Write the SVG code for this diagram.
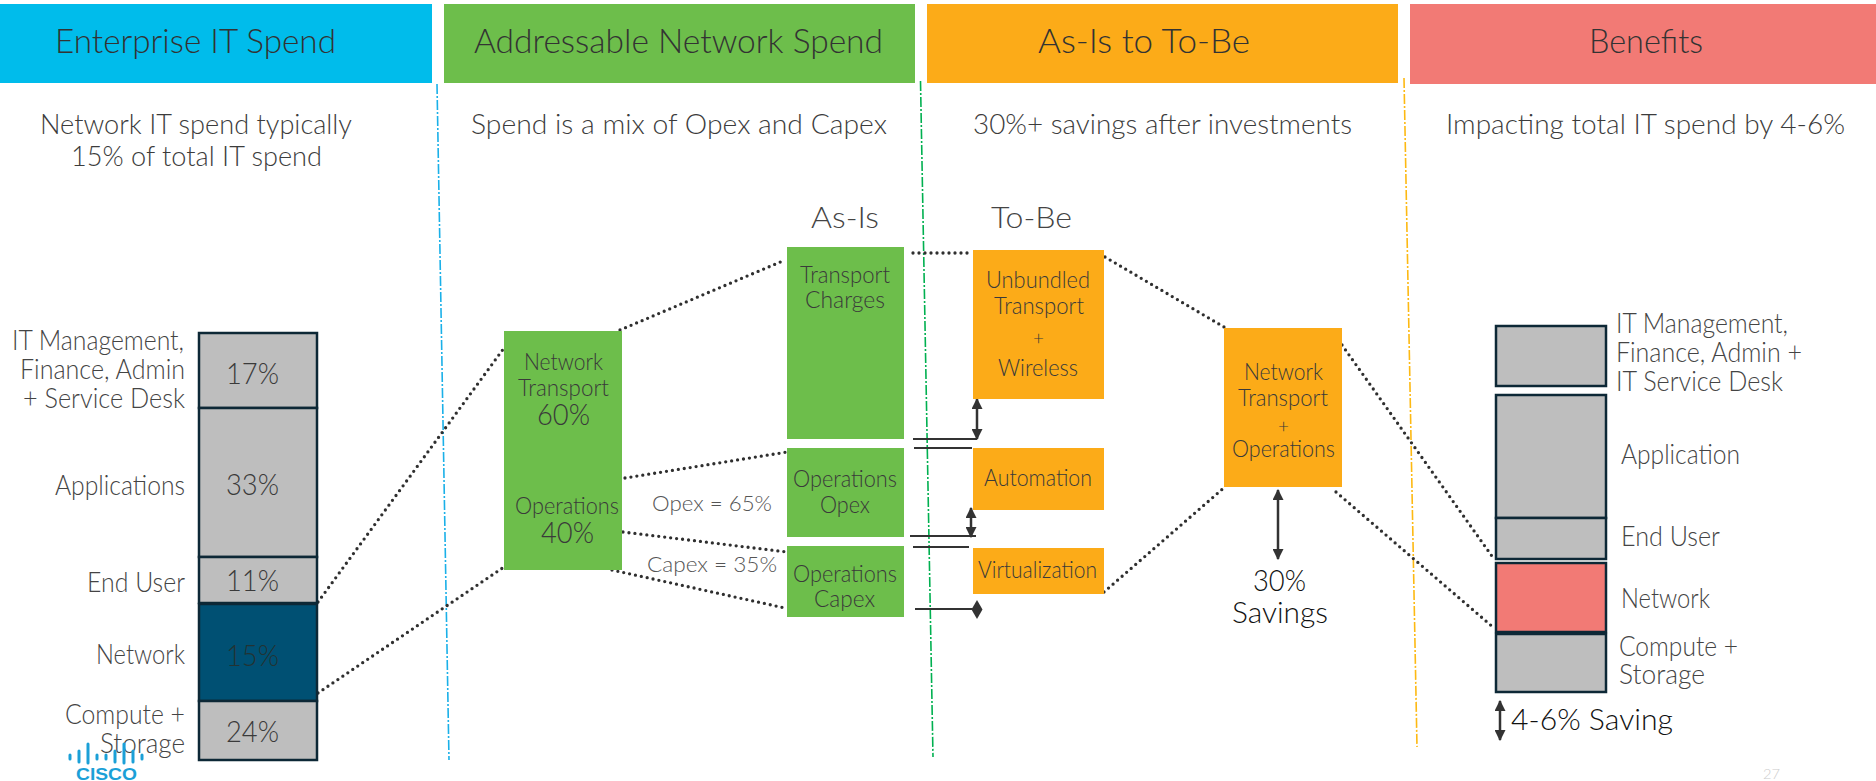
<svg xmlns="http://www.w3.org/2000/svg" width="1876" height="781" viewBox="0 0 1876 781">
<defs>
<style>
text{font-family:"Lato","Liberation Sans",sans-serif;font-weight:300;fill:#3a3a3a}
.h{font-size:33px;fill:#333}
.s{font-size:28px;fill:#3c3c3c}
.l{font-size:27px;fill:#444}
.p{font-size:29px;fill:#3a3a3a}
.b{font-size:24px;fill:#3a3a3a}
.c{font-size:22px;fill:#555}
.t{font-size:30px;fill:#111}
.bar{stroke:#0d2836;stroke-width:2.5;fill:#bebebe}
.dot{stroke:#2f2f2f;stroke-width:3.3;stroke-linecap:round;stroke-dasharray:0 6;fill:none}
.sep{stroke-width:1.6;stroke-dasharray:10 2 2 2;fill:none}
.sol{stroke:#333;stroke-width:2;fill:none}
.arr{stroke:#333;stroke-width:2.5;fill:none;marker-start:url(#a);marker-end:url(#a)}
.g{fill:#6dbe4b}.o{fill:#fcab18}
.logo{stroke:#1ba0d7;stroke-width:3;stroke-linecap:round}
</style>
<marker id="a" viewBox="0 0 10 10" refX="9" refY="5" markerWidth="4.4" markerHeight="4.4" orient="auto-start-reverse"><path d="M0 0L10 5L0 10z" fill="#333"/></marker>
</defs>
<g id="hdr-enterprise"><rect x="0" y="4" width="432" height="79" fill="#00bceb"/><text class="h" x="55" y="53" textLength="281" lengthAdjust="spacingAndGlyphs">Enterprise IT Spend</text><text class="s" x="40" y="134" textLength="312" lengthAdjust="spacingAndGlyphs">Network IT spend typically</text><text class="s" x="71" y="166" textLength="251" lengthAdjust="spacingAndGlyphs">15% of total IT spend</text></g>
<g id="hdr-addressable"><rect x="444" y="4" width="471" height="79" class="g"/><text class="h" x="474" y="53" textLength="409" lengthAdjust="spacingAndGlyphs">Addressable Network Spend</text><text class="s" x="471" y="134" textLength="416" lengthAdjust="spacingAndGlyphs">Spend is a mix of Opex and Capex</text></g>
<g id="hdr-asis"><rect x="927" y="4" width="471" height="79" class="o"/><text class="h" x="1038" y="53" textLength="212" lengthAdjust="spacingAndGlyphs">As-Is to To-Be</text><text class="s" x="973" y="134" textLength="379" lengthAdjust="spacingAndGlyphs">30%+ savings after investments</text></g>
<g id="hdr-benefits"><rect x="1410" y="4" width="466" height="80" fill="#f27a75"/><text class="h" x="1589" y="53" textLength="114" lengthAdjust="spacingAndGlyphs">Benefits</text><text class="s" x="1446" y="134" textLength="399" lengthAdjust="spacingAndGlyphs">Impacting total IT spend by 4-6%</text></g>

<g id="connectors">
<path class="sep" stroke="#1ab0e8" d="M437 84L449 760"/>
<path class="sep" stroke="#00b050" d="M920.500 81L933 757"/>
<path class="sep" stroke="#fdb913" d="M1404 78L1417 747"/>
<path class="dot" d="M318 602L504 348M318 693L504 567M620 330L785 260M625 478L787 452M623 532L787 552M612 570L785 608M913 253L972 253M1105 257L1224 327M1104 592L1226 486M1342 345L1494 559M1336 492L1494 628"/>
<path class="sol" d="M913 439H977M914 448H972M910 536H976M913 547H969M915 609H973"/>
<path d="M977 600L982.500 609.500L977 619L971.500 609.500z" fill="#333"/>
<path class="arr" d="M977 399V439"/>
<path class="arr" d="M971 508V537"/>
<path class="arr" d="M1278 490V559"/>
<path class="arr" d="M1500 701V740"/>
</g>

<g id="left-stack">
<rect class="bar" x="199" y="333" width="118" height="75"/>
<rect class="bar" x="199" y="408" width="118" height="149"/>
<rect class="bar" x="199" y="557" width="118" height="46"/>
<rect class="bar" x="199" y="604" width="118" height="97" style="fill:#005073"/>
<rect class="bar" x="199" y="701" width="118" height="59"/>
<text class="p" x="226" y="384" textLength="53" lengthAdjust="spacingAndGlyphs">17%</text>
<text class="p" x="226" y="495" textLength="53" lengthAdjust="spacingAndGlyphs">33%</text>
<text class="p" x="226" y="591" textLength="53" lengthAdjust="spacingAndGlyphs">11%</text>
<text class="p" x="226" y="666" textLength="53" lengthAdjust="spacingAndGlyphs" style="fill:#233">15%</text>
<text class="p" x="226" y="742" textLength="53" lengthAdjust="spacingAndGlyphs">24%</text>
<text class="l" x="12" y="350" textLength="172" lengthAdjust="spacingAndGlyphs">IT Management,</text>
<text class="l" x="20" y="379" textLength="165" lengthAdjust="spacingAndGlyphs">Finance, Admin</text>
<text class="l" x="23" y="408" textLength="162" lengthAdjust="spacingAndGlyphs">+ Service Desk</text>
<text class="l" x="55" y="495" textLength="130" lengthAdjust="spacingAndGlyphs">Applications</text>
<text class="l" x="87" y="592" textLength="98" lengthAdjust="spacingAndGlyphs">End User</text>
<text class="l" x="96" y="664" textLength="89" lengthAdjust="spacingAndGlyphs">Network</text>
<text class="l" x="65" y="724" textLength="120" lengthAdjust="spacingAndGlyphs">Compute +</text>
<text class="l" x="100" y="753" textLength="85" lengthAdjust="spacingAndGlyphs">Storage</text>
</g>

<g id="addressable-box"><rect x="504" y="331" width="118" height="239" class="g"/>
<text class="b" x="524" y="370" textLength="79" lengthAdjust="spacingAndGlyphs">Network</text>
<text class="b" x="518" y="396" textLength="91" lengthAdjust="spacingAndGlyphs">Transport</text>
<text class="p" x="537" y="425" textLength="53" lengthAdjust="spacingAndGlyphs">60%</text>
<text class="b" x="515" y="514" textLength="104" lengthAdjust="spacingAndGlyphs">Operations</text>
<text class="p" x="541" y="543" textLength="53" lengthAdjust="spacingAndGlyphs">40%</text>
</g>
<g id="split-labels">
<text class="c" x="652" y="511" textLength="120" lengthAdjust="spacingAndGlyphs">Opex = 65%</text>
<text class="c" x="647" y="572" textLength="130" lengthAdjust="spacingAndGlyphs">Capex = 35%</text>
</g>
<g id="as-is-title"><text class="l" x="811" y="228" textLength="68" lengthAdjust="spacingAndGlyphs" style="font-size:30px">As-Is</text></g>
<g id="to-be-title"><text class="l" x="991" y="228" textLength="81" lengthAdjust="spacingAndGlyphs" style="font-size:30px">To-Be</text></g>
<g id="transport-charges"><rect x="787" y="247" width="117" height="192" class="g"/>
<text class="b" x="800" y="283" textLength="90" lengthAdjust="spacingAndGlyphs">Transport</text>
<text class="b" x="805" y="308" textLength="80" lengthAdjust="spacingAndGlyphs">Charges</text></g>
<g id="ops-opex"><rect x="787" y="448" width="117" height="89" class="g"/>
<text class="b" x="793" y="487" textLength="104" lengthAdjust="spacingAndGlyphs">Operations</text>
<text class="b" x="820" y="513" textLength="50" lengthAdjust="spacingAndGlyphs">Opex</text></g>
<g id="ops-capex"><rect x="787" y="546" width="117" height="71" class="g"/>
<text class="b" x="793" y="582" textLength="104" lengthAdjust="spacingAndGlyphs">Operations</text>
<text class="b" x="814" y="607" textLength="61" lengthAdjust="spacingAndGlyphs">Capex</text></g>

<g id="unbundled"><rect x="973" y="250" width="131" height="149" class="o"/>
<text class="b" x="986" y="288" textLength="104" lengthAdjust="spacingAndGlyphs">Unbundled</text>
<text class="b" x="994" y="314" textLength="90" lengthAdjust="spacingAndGlyphs">Transport</text>
<text class="b" x="1033" y="345" style="font-size:19px">+</text>
<text class="b" x="998" y="376" textLength="80" lengthAdjust="spacingAndGlyphs">Wireless</text></g>
<g id="automation"><rect x="973" y="448" width="131" height="62" class="o"/>
<text class="b" x="984" y="486" textLength="108" lengthAdjust="spacingAndGlyphs">Automation</text></g>
<g id="virtualization"><rect x="973" y="548" width="131" height="46" class="o"/>
<text class="b" x="978" y="578" textLength="119" lengthAdjust="spacingAndGlyphs">Virtualization</text></g>

<g id="network-ops"><rect x="1224" y="328" width="118" height="159" class="o"/>
<text class="b" x="1244" y="380" textLength="79" lengthAdjust="spacingAndGlyphs">Network</text>
<text class="b" x="1238" y="406" textLength="90" lengthAdjust="spacingAndGlyphs">Transport</text>
<text class="b" x="1278" y="433" style="font-size:19px">+</text>
<text class="b" x="1232" y="457" textLength="103" lengthAdjust="spacingAndGlyphs">Operations</text></g>
<g id="savings">
<text class="t" x="1253" y="591" textLength="53" lengthAdjust="spacingAndGlyphs">30%</text>
<text class="t" x="1232" y="623" textLength="96" lengthAdjust="spacingAndGlyphs">Savings</text></g>

<g id="right-stack">
<rect class="bar" x="1496" y="326" width="110" height="60"/>
<rect class="bar" x="1496" y="395" width="110" height="123"/>
<rect class="bar" x="1496" y="518" width="110" height="41"/>
<rect class="bar" x="1496" y="563" width="110" height="69" style="fill:#f27a75"/>
<rect class="bar" x="1496" y="634" width="110" height="58"/>
<text class="l" x="1616" y="333" textLength="172" lengthAdjust="spacingAndGlyphs">IT Management,</text>
<text class="l" x="1616" y="362" textLength="186" lengthAdjust="spacingAndGlyphs">Finance, Admin +</text>
<text class="l" x="1616" y="391" textLength="167" lengthAdjust="spacingAndGlyphs">IT Service Desk</text>
<text class="l" x="1621" y="464" textLength="119" lengthAdjust="spacingAndGlyphs">Application</text>
<text class="l" x="1621" y="546" textLength="99" lengthAdjust="spacingAndGlyphs">End User</text>
<text class="l" x="1621" y="608" textLength="89" lengthAdjust="spacingAndGlyphs">Network</text>
<text class="l" x="1619" y="656" textLength="119" lengthAdjust="spacingAndGlyphs">Compute +</text>
<text class="l" x="1619" y="684" textLength="86" lengthAdjust="spacingAndGlyphs">Storage</text>
</g>
<g id="saving-label"><text class="t" x="1511" y="730" textLength="162" lengthAdjust="spacingAndGlyphs">4-6% Saving</text></g>

<g id="cisco-logo">
<path class="logo" d="M70 755V759M79 751V762M88 744V763M97 755V759M106 755V759M115 751V762M124 744V763M133 751V762M142 755V759"/>
<text x="76" y="780" textLength="61" lengthAdjust="spacingAndGlyphs" style="font-family:'Liberation Sans',sans-serif;font-weight:700;font-size:16px;fill:#1ba0d7">CISCO</text>
</g>
<g id="page-number"><text x="1763" y="779" textLength="17" lengthAdjust="spacingAndGlyphs" style="font-size:14px;fill:#ccc">27</text></g>
</svg>
